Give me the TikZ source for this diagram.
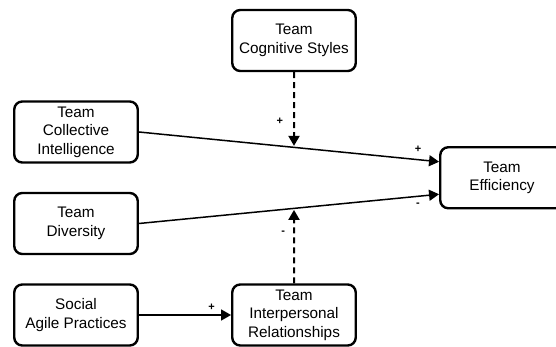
\documentclass[tikz,border=0pt]{standalone}
\usepackage{fontspec}
\setmainfont{Liberation Sans}
\usetikzlibrary{matrix, calc, arrows.meta}

\tikzset{
  factor/.style={draw, line width=2.4pt, rounded corners=8pt, align=center,
    minimum width=123.5pt, minimum height=61pt, inner sep=2pt,
    font=\fontsize{15.3}{18.5}\selectfont},
  link/.style={-{Triangle[length=10pt,width=11pt]}, line width=1.5pt},
  moderator/.style={link, line width=2pt, dash pattern=on 6pt off 4pt, shorten >=1.5pt},
  sign/.style={font=\bfseries\fontsize{11}{13}\selectfont, inner sep=1pt}
}

\begin{document}
\begin{tikzpicture}
  \begin{scope}[overlay]
  \matrix (model)
    [column sep={208pt,between origins},
     row sep={45.75pt,between origins}]
  {
    &[10pt] \node[factor] (cog) {Team\\Cognitive Styles}; & \\
    & & \\
    \node[factor] (ci) {Team\\Collective\\Intelligence}; & & \\
    & & \node[factor] (eff) {Team\\Efficiency}; \\
    \node[factor] (div) {Team\\Diversity}; & & \\
    & & \\
    \node[factor] (soc) {Social\\Agile Practices}; &
      \node[factor] (inter) {Team\\Interpersonal\\Relationships}; & \\
  };
  \end{scope}
  \useasboundingbox ($(cog.center)+(-294pt,40.5pt)$) rectangle ++(556pt,-347pt);

  \coordinate (ci-in) at ([yshift=16pt]eff.west);
  \coordinate (div-in) at ([yshift=-16.5pt]eff.west);
  \coordinate (ci-hit) at (intersection of cog.south--inter.north and ci.east--ci-in);
  \coordinate (div-hit) at (intersection of cog.south--inter.north and div.east--div-in);

  \draw [link] (ci.east) -- (ci-in) node [sign, pos=0.93, above=5pt] (s-ci) {+};
  \draw [link] (div.east) -- (div-in) node [sign, pos=0.93, below=5pt] (s-div) {-};
  \draw [link] (soc.east) -- (inter.west) node [sign, pos=0.79, above=3pt] (s-soc) {+};

  \draw [moderator] (cog.south) -- (ci-hit) node [sign, pos=0.65, left=9pt] (s-cog) {+};
  \draw [moderator] (inter.north) -- (div-hit) node [sign, pos=0.67, left=7pt] (s-inter) {-};
\end{tikzpicture}
\end{document}
